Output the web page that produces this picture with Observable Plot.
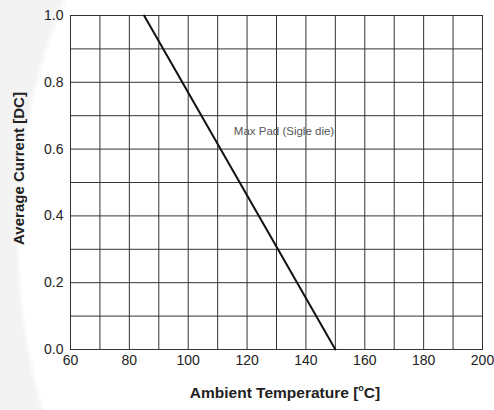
<!DOCTYPE html>
<html>
<head>
<meta charset="utf-8">
<script src="https://cdn.jsdelivr.net/npm/d3@7"></script>
<script src="https://cdn.jsdelivr.net/npm/@observablehq/plot@0.6"></script>
<style>
  html, body { margin: 0; padding: 0; }
  body {
    width: 494px; height: 410px; overflow: hidden;
    background: radial-gradient(ellipse 285px 430px at 300px 235px, #ffffff 98%, #f3f3f3 100%);
    font-family: "Liberation Sans", Arial, sans-serif;
  }
  svg { background: transparent !important; }
</style>
</head>
<body>
<div id="chart"></div>
<script>
// Data
const temperature = [85, 150];          // Ambient Temperature [°C]
const current = [1.0, 0.0];             // Average Current [DC]
const xTicks = [60, 80, 100, 120, 140, 160, 180, 200];
const yTicks = [0.0, 0.2, 0.4, 0.6, 0.8, 1.0];
const xGrid = d3.range(60, 201, 10);
const yGrid = d3.range(0, 1.0001, 0.1);
const annotation = [{x: 115.5, y: 0.653, text: "Max Pad (Sigle die)"}];

const line = temperature.map((t, i) => ({t, c: current[i]}));

const chart = Plot.plot({
  width: 494,
  height: 410,
  marginLeft: 70,
  marginRight: 12,
  marginTop: 15,
  marginBottom: 61,
  style: {background: "transparent", fontFamily: "'Liberation Sans', Arial, sans-serif"},
  x: {domain: [60, 200], ticks: xTicks, tickSize: 0, tickPadding: 6, label: null, tickFormat: d => String(d)},
  y: {domain: [0, 1], ticks: yTicks, tickSize: 0, tickPadding: 7, label: null, tickFormat: d3.format(".1f")},
  marks: [
    Plot.ruleX(xGrid, {stroke: "#333", strokeWidth: 1}),
    Plot.ruleY(yGrid, {stroke: "#333", strokeWidth: 1}),
    Plot.frame({stroke: "#333", strokeWidth: 1}),
    Plot.line(line, {x: "t", y: "c", stroke: "#111", strokeWidth: 2}),
    Plot.text(annotation, {x: "x", y: "y", text: "text", textAnchor: "start", fontSize: 11.5, fill: "#555"}),
    Plot.axisX({ticks: xTicks, tickSize: 0, tickPadding: 6, fontSize: 14, fill: "#222", tickFormat: d => String(d)}),
    Plot.axisY({ticks: yTicks, tickSize: 0, tickPadding: 7, fontSize: 14, fill: "#222", tickFormat: d3.format(".1f")})
  ]
});

const svg = d3.select(chart);
// X axis title with superscript degree sign
const xt = svg.append("text")
  .attr("x", 285).attr("y", 398)
  .attr("text-anchor", "middle")
  .attr("font-size", 15.5).attr("font-weight", "bold").attr("fill", "#222")
  .attr("font-family", "'Liberation Sans', Arial, sans-serif");
xt.append("tspan").text("Ambient Temperature [");
xt.append("tspan").attr("font-size", 9).attr("dy", -7).text("o");
xt.append("tspan").attr("dy", 7).text("C]");

// Y axis title
svg.append("text")
  .attr("transform", "translate(24,168.5) rotate(-90)")
  .attr("text-anchor", "middle")
  .attr("font-size", 15).attr("font-weight", "bold").attr("fill", "#222")
  .attr("font-family", "'Liberation Sans', Arial, sans-serif")
  .text("Average Current [DC]");

document.getElementById("chart").appendChild(chart);
</script>
</body>
</html>
